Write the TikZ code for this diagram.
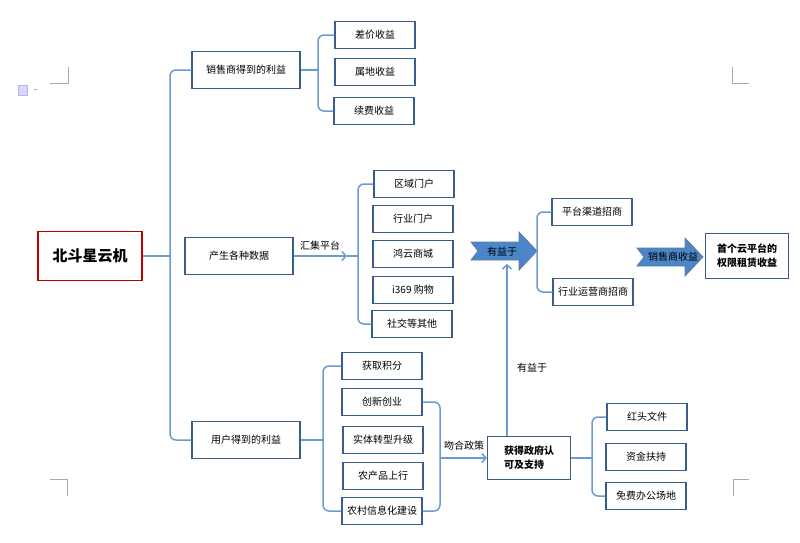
\documentclass[tikz,border=0pt]{standalone}
\usepackage{fontspec}
\setmainfont{Noto Sans CJK SC}
\usetikzlibrary{arrows.meta}
\definecolor{boxc}{RGB}{56,93,138}
\definecolor{linkc}{RGB}{108,155,210}
\definecolor{arrc}{RGB}{74,134,200}
\definecolor{rootc}{RGB}{192,0,0}
\definecolor{cropc}{RGB}{170,170,170}

\begin{document}
\begin{tikzpicture}[x=1pt,y=-1pt,
   leaf/.style={draw=boxc,line width=1.3pt,minimum width=80pt,minimum height=27pt,inner sep=0pt,font=\fontsize{10}{12}\selectfont},
   mid/.style={leaf,minimum width=108pt,minimum height=37pt},
   link/.style={draw=linkc,line width=1.5pt,rounded corners=6pt},
   tip/.style={-{Straight Barb[length=4pt,width=9pt]}},
   lbl/.style={font=\fontsize{10}{12}\selectfont,inner sep=1pt},
   benefitarrow/.pic={\draw[fill=arrc,draw=boxc!80,line width=0.8pt] (-33,-9) -- (15,-9) -- (15,-19) -- (33,0) -- (15,19) -- (15,9) -- (-33,9) -- (-26,0) -- cycle;}]
      \useasboundingbox (0,0) rectangle (800,542);
      \draw[cropc,line width=0.8pt] (50,83) -- (68,83) -- (68,67);
      \draw[cropc,line width=0.8pt] (749,83) -- (732,83) -- (732,67);
      \draw[cropc,line width=0.8pt] (50,479) -- (67,479) -- (67,496);
      \draw[cropc,line width=0.8pt] (749,479) -- (733,479) -- (733,496);
      \draw[fill=blue!15,draw=blue!30] (18,85) rectangle (27,95);
      \draw[gray!60] (34,89) -- (37,89);
      \draw (90,256) node[draw=rootc,line width=1.3pt,minimum width=104pt,minimum height=49pt,font=\fontsize{15}{18}\selectfont\bfseries] (root) {北斗星云机};
      \draw (246,70) node[mid] (b1) {销售商得到的利益};
      \draw (239,256) node[mid] (b2) {产生各种数据};
      \draw (246,440) node[mid] (b3) {用户得到的利益};
      \draw[link] (b1.west) -| (170,256) |- (b3.west);
      \draw[link] (root.east) -- (170,256);
          \draw (375,35) node[leaf] (s1) {差价收益};
          \draw (375,72) node[leaf] (s2) {属地收益};
          \draw (374,111) node[leaf] (s3) {续费收益};
          \draw[link] (s1.west) -| (318,70) |- (s3.west);
          \draw[link] (b1.east) -- (318,70);
          \draw (414,184) node[leaf] (d1) {区域门户};
          \draw (413,219) node[leaf] (d2) {行业门户};
          \draw (413,254) node[leaf] (d3) {鸿云商城};
          \draw (413,290) node[leaf] (d4) {i369 购物};
          \draw (412,324) node[leaf] (d5) {社交等其他};
          \draw[link] (d1.west) -| (358,256) |- (d5.west);
          \draw[link,tip] (b2.east) -- (347,256);
          \draw[link] (347,256) -- (358,256);
          \draw (320,246) node[lbl] (hj) {汇集平台};
          \draw (382,366) node[leaf] (u1) {获取积分};
          \draw (382,402) node[leaf] (u2) {创新创业};
          \draw (383,440) node[leaf] (u3) {实体转型升级};
          \draw (383,476) node[leaf] (u4) {农产品上行};
          \draw (382,511) node[leaf] (u5) {农村信息化建设};
          \draw[link] (u1.west) -| (323,440) |- (u5.west);
          \draw[link] (b3.east) -- (323,440);
          \draw[link] (u2.east) -| (440,458) |- (u5.east);
          \draw (529,458) node[leaf,minimum width=83pt,minimum height=43pt,align=left,font=\fontsize{10}{14}\selectfont\bfseries] (gov) {获得政府认\\可及支持};
          \draw[link,tip] (440,458) -- (gov.west);
          \draw (464,446) node[lbl] (wh) {吻合政策};
          \draw (647,417) node[leaf] (g1) {红头文件};
          \draw (646,457) node[leaf] (g2) {资金扶持};
          \draw (646,496) node[leaf] (g3) {免费办公场地};
          \draw[link] (g1.west) -| (592,458) |- (g3.west);
          \draw[link] (gov.east) -- (592,458);
       \pic at (504,251) {benefitarrow};
       \draw (502,252) node[lbl] (yy) {有益于};
       \coordinate (yyfoot) at (507,264);
          \draw[link,tip] (gov.north -| yyfoot) -- (yyfoot);
          \draw (532,368) node[lbl] (yl) {有益于};
          \draw (592,212) node[leaf] (p1) {平台渠道招商};
          \draw (593,292) node[leaf] (p2) {行业运营商招商};
          \draw[link] (p1.west) -| (537,251) |- (p2.west);
       \pic at (670,257) {benefitarrow};
       \draw (673,257) node[lbl] (xs) {销售商收益};
          \draw (747,256) node[leaf,minimum width=83pt,minimum height=45pt,align=center,font=\fontsize{10}{14}\selectfont\bfseries] (top) {首个云平台的\\权限租赁收益};
\end{tikzpicture}
\end{document}
